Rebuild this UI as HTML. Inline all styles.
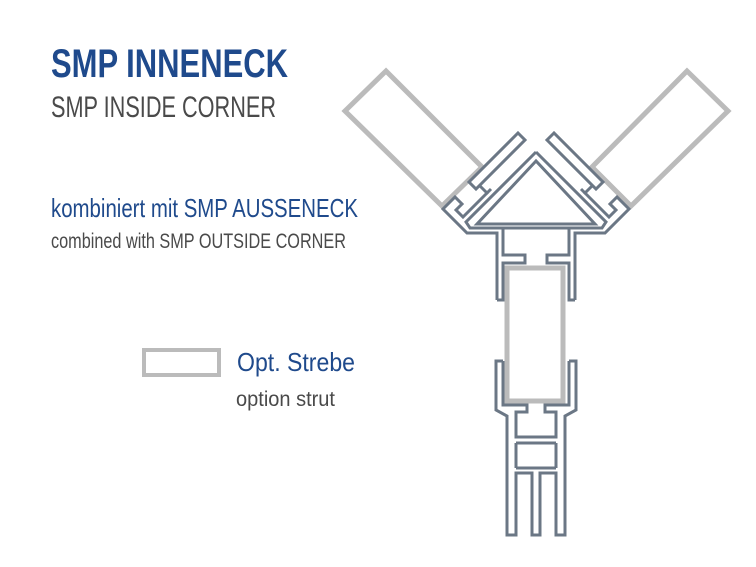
<!DOCTYPE html>
<html><head><meta charset="utf-8"><style>
html,body{margin:0;padding:0;background:#fff;width:756px;height:567px;overflow:hidden}
svg{display:block}
text{font-family:"Liberation Sans Narrow","Liberation Sans",sans-serif}
</style></head><body>
<svg width="756" height="567" viewBox="0 0 756 567" xmlns="http://www.w3.org/2000/svg">
<rect width="756" height="567" fill="#fff"/>
<text x="51" y="77" font-size="40" font-weight="bold" fill="#1f4a8c" textLength="237" lengthAdjust="spacingAndGlyphs">SMP INNENECK</text>
<text x="51" y="117" font-size="30" fill="#4a4a4a" textLength="225" lengthAdjust="spacingAndGlyphs">SMP INSIDE CORNER</text>
<text x="51" y="217" font-size="26" fill="#1f4a8c" textLength="307" lengthAdjust="spacingAndGlyphs">kombiniert mit SMP AUSSENECK</text>
<text x="51" y="248" font-size="21" fill="#4a4a4a" textLength="295" lengthAdjust="spacingAndGlyphs">combined with SMP OUTSIDE CORNER</text>
<rect x="144" y="350" width="75" height="25" fill="none" stroke="#bbb" stroke-width="4"/>
<text x="237" y="371" font-size="26" fill="#1f4a8c" textLength="118" lengthAdjust="spacingAndGlyphs">Opt. Strebe</text>
<text x="236" y="406" font-size="21" fill="#4a4a4a" textLength="99" lengthAdjust="spacingAndGlyphs">option strut</text>

<g fill="#fff" stroke="#bbb" stroke-width="5" stroke-linejoin="miter">
<polygon points="386,71 345,111 442,206 482,167"/>
<polygon points="687,71 728,111 631,206 592,167"/>
<rect x="507" y="268" width="56" height="133"/>
</g>

<g id="half" fill="none" stroke="#6b7785" stroke-width="3" stroke-linejoin="miter">
<polygon points="518,133 525,140 476,189 469,182" fill="#fff"/>
<path d="M480,186 L488,194"/>
<path d="M497,300 L497,233 L467,233 L443,209 L455,197 L462,204 L456,210 L463,217 L491,189"/>
<path d="M536,152 L466,222 L470,228 L536,228"/>
<path d="M503,228 L503,255 L525,255 L525,263 L503,263 L503,300 L497,300"/>
<path d="M503,361 L496,361 L496,410 L507,416 L507,535 L516,535 L516,473 L532,473 L532,535 L536,535"/>
<path d="M503,361 L503,405 L527,405 L527,412 L516,412 L516,437 L536,437 M516,443 L536,443 M516,468 L536,468 M516,443 L516,468"/>
</g>
<use href="#half" transform="translate(1072,0) scale(-1,1)"/>
<polygon points="536,161 477,224 595,224" fill="none" stroke="#6b7785" stroke-width="3"/>
</svg>
</body></html>
